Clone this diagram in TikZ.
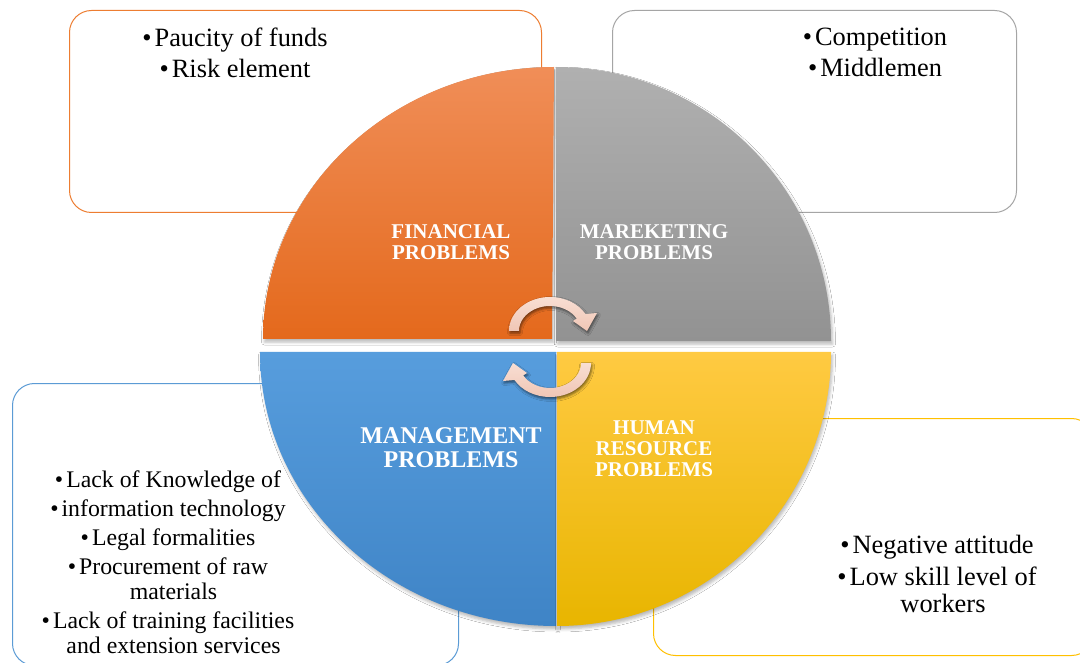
\documentclass[tikz,border=0pt]{standalone}
\usepackage{fontspec}
\setmainfont{Liberation Serif}
\usetikzlibrary{shadows.blur}
\definecolor{orangeline}{HTML}{ED7D31}
\definecolor{grayline}{HTML}{A5A5A5}
\definecolor{blueline}{HTML}{5B9BD5}
\definecolor{yellowline}{HTML}{FFC000}
\definecolor{orangetop}{HTML}{F08E58}
\definecolor{orangebot}{HTML}{E4691C}
\definecolor{graytop}{HTML}{B0B0B0}
\definecolor{graybot}{HTML}{929292}
\definecolor{bluetop}{HTML}{579DDD}
\definecolor{bluebot}{HTML}{3F84C6}
\definecolor{yellowtop}{HTML}{FFCA42}
\definecolor{yellowbot}{HTML}{E8B500}
\definecolor{arrowtop}{HTML}{F8DED3}
\definecolor{arrowbot}{HTML}{F0C6B5}
\begin{document}
\begin{tikzpicture}[x=1pt,y=-1pt,
  textbox/.style={draw=#1, line width=1pt, rounded corners=22pt, fill=white,
    anchor=north west, inner sep=0pt},
  quad/.style={blur shadow={shadow xshift=1.5pt, shadow yshift=-3pt,
    shadow blur radius=3pt, shadow opacity=28}},
  circarrow/.style={top color=arrowtop, bottom color=arrowbot,
    blur shadow={shadow xshift=1pt, shadow yshift=-2pt,
    shadow blur radius=2.5pt, shadow opacity=55}},
  qlabel/.style={text=white, align=center, inner sep=0pt,
    font=\bfseries\fontsize{21}{21}\selectfont},
  biglabel/.style={qlabel, font=\bfseries\fontsize{24}{24}\selectfont},
  listtext/.style={align=center, inner sep=0pt, anchor=north,
    font=\fontsize{26.4}{31}\selectfont},
  smalllist/.style={align=center, inner sep=0pt, anchor=north,
    font=\fontsize{23.8}{25}\selectfont}]
\useasboundingbox (0,0) rectangle (1080,663);
\fill[white] (0,0) rectangle (1080,663);

% outer text boxes
\node[textbox=orangeline, minimum width=472pt, minimum height=202pt] (finbox) at (69,10) {};
\node[textbox=grayline, minimum width=404pt, minimum height=202pt] (mktbox) at (612,10) {};
\node[textbox=blueline, minimum width=446pt, minimum height=282pt] (mgmtbox) at (12,383) {};
\node[textbox=yellowline, minimum width=440pt, minimum height=237pt] (hrbox) at (653,418) {};

% box texts
\node[listtext] (fintext) at (235,27.5) {\textbullet\hspace{3pt}Paucity of funds\\\textbullet\hspace{3pt}Risk element};
\node[listtext] (mkttext) at (875,28) {\textbullet\hspace{3pt}Competition\\\textbullet\hspace{3pt}Middlemen};
\node[listtext, font=\fontsize{26.4}{27}\selectfont] (hrtext) at (937,535)
  {\textbullet\hspace{3pt}Negative attitude\\[5pt]\textbullet\hspace{3pt}Low skill level of\\\hspace*{12pt}workers};
\node[smalllist] (mgmttext) at (168,470.5)
  {\textbullet\hspace{3pt}Lack of Knowledge of\\[4pt]\textbullet\hspace{3pt}information technology\\[4pt]\textbullet\hspace{3pt}Legal formalities\\[4pt]\textbullet\hspace{3pt}Procurement of raw\\\hspace*{11pt}materials\\[4pt]\textbullet\hspace{3pt}Lack of training facilities\\\hspace*{11pt}and extension services};

% quadrants
\path[quad, top color=orangetop, bottom color=orangebot]
  (552,339) -- (263,339) arc[start angle=180, end angle=270, x radius=291, y radius=272] -- cycle;
\path[quad, top color=graytop, bottom color=graybot]
  (556,341) -- (556,67) arc[start angle=270, end angle=360, x radius=275, y radius=274] -- cycle;
\path[quad, top color=bluetop, bottom color=bluebot]
  (556,352) -- (260,352) arc[start angle=180, end angle=90, x radius=296, y radius=274] -- cycle;
\path[quad, top color=yellowtop, bottom color=yellowbot]
  (557,352) -- (831,352) arc[start angle=0, end angle=90, x radius=274, y radius=274] -- cycle;

% quadrant labels
\node[qlabel] (fin) at (451,242.5) {FINANCIAL\\PROBLEMS};
\node[qlabel] (mkt) at (654,242.5) {MAREKETING\\PROBLEMS};
\node[biglabel] (mgmt) at (451,448) {MANAGEMENT\\PROBLEMS};
\node[qlabel] (hr) at (654,449) {HUMAN\\RESOURCE\\PROBLEMS};

% circular arrows
\path[circarrow] (509,331) arc[start angle=180, end angle=330, x radius=41, y radius=34]
  -- (597,313) -- (587,331) -- (573,321) -- (576.8,318.5)
  arc[start angle=330, end angle=180, x radius=31, y radius=25] -- cycle;
\path[circarrow] (591,363) arc[start angle=0, end angle=150, x radius=41, y radius=34]
  -- (503,381) -- (513,363) -- (527,373) -- (523.2,375.5)
  arc[start angle=150, end angle=0, x radius=31, y radius=25] -- cycle;
\end{tikzpicture}
\end{document}
